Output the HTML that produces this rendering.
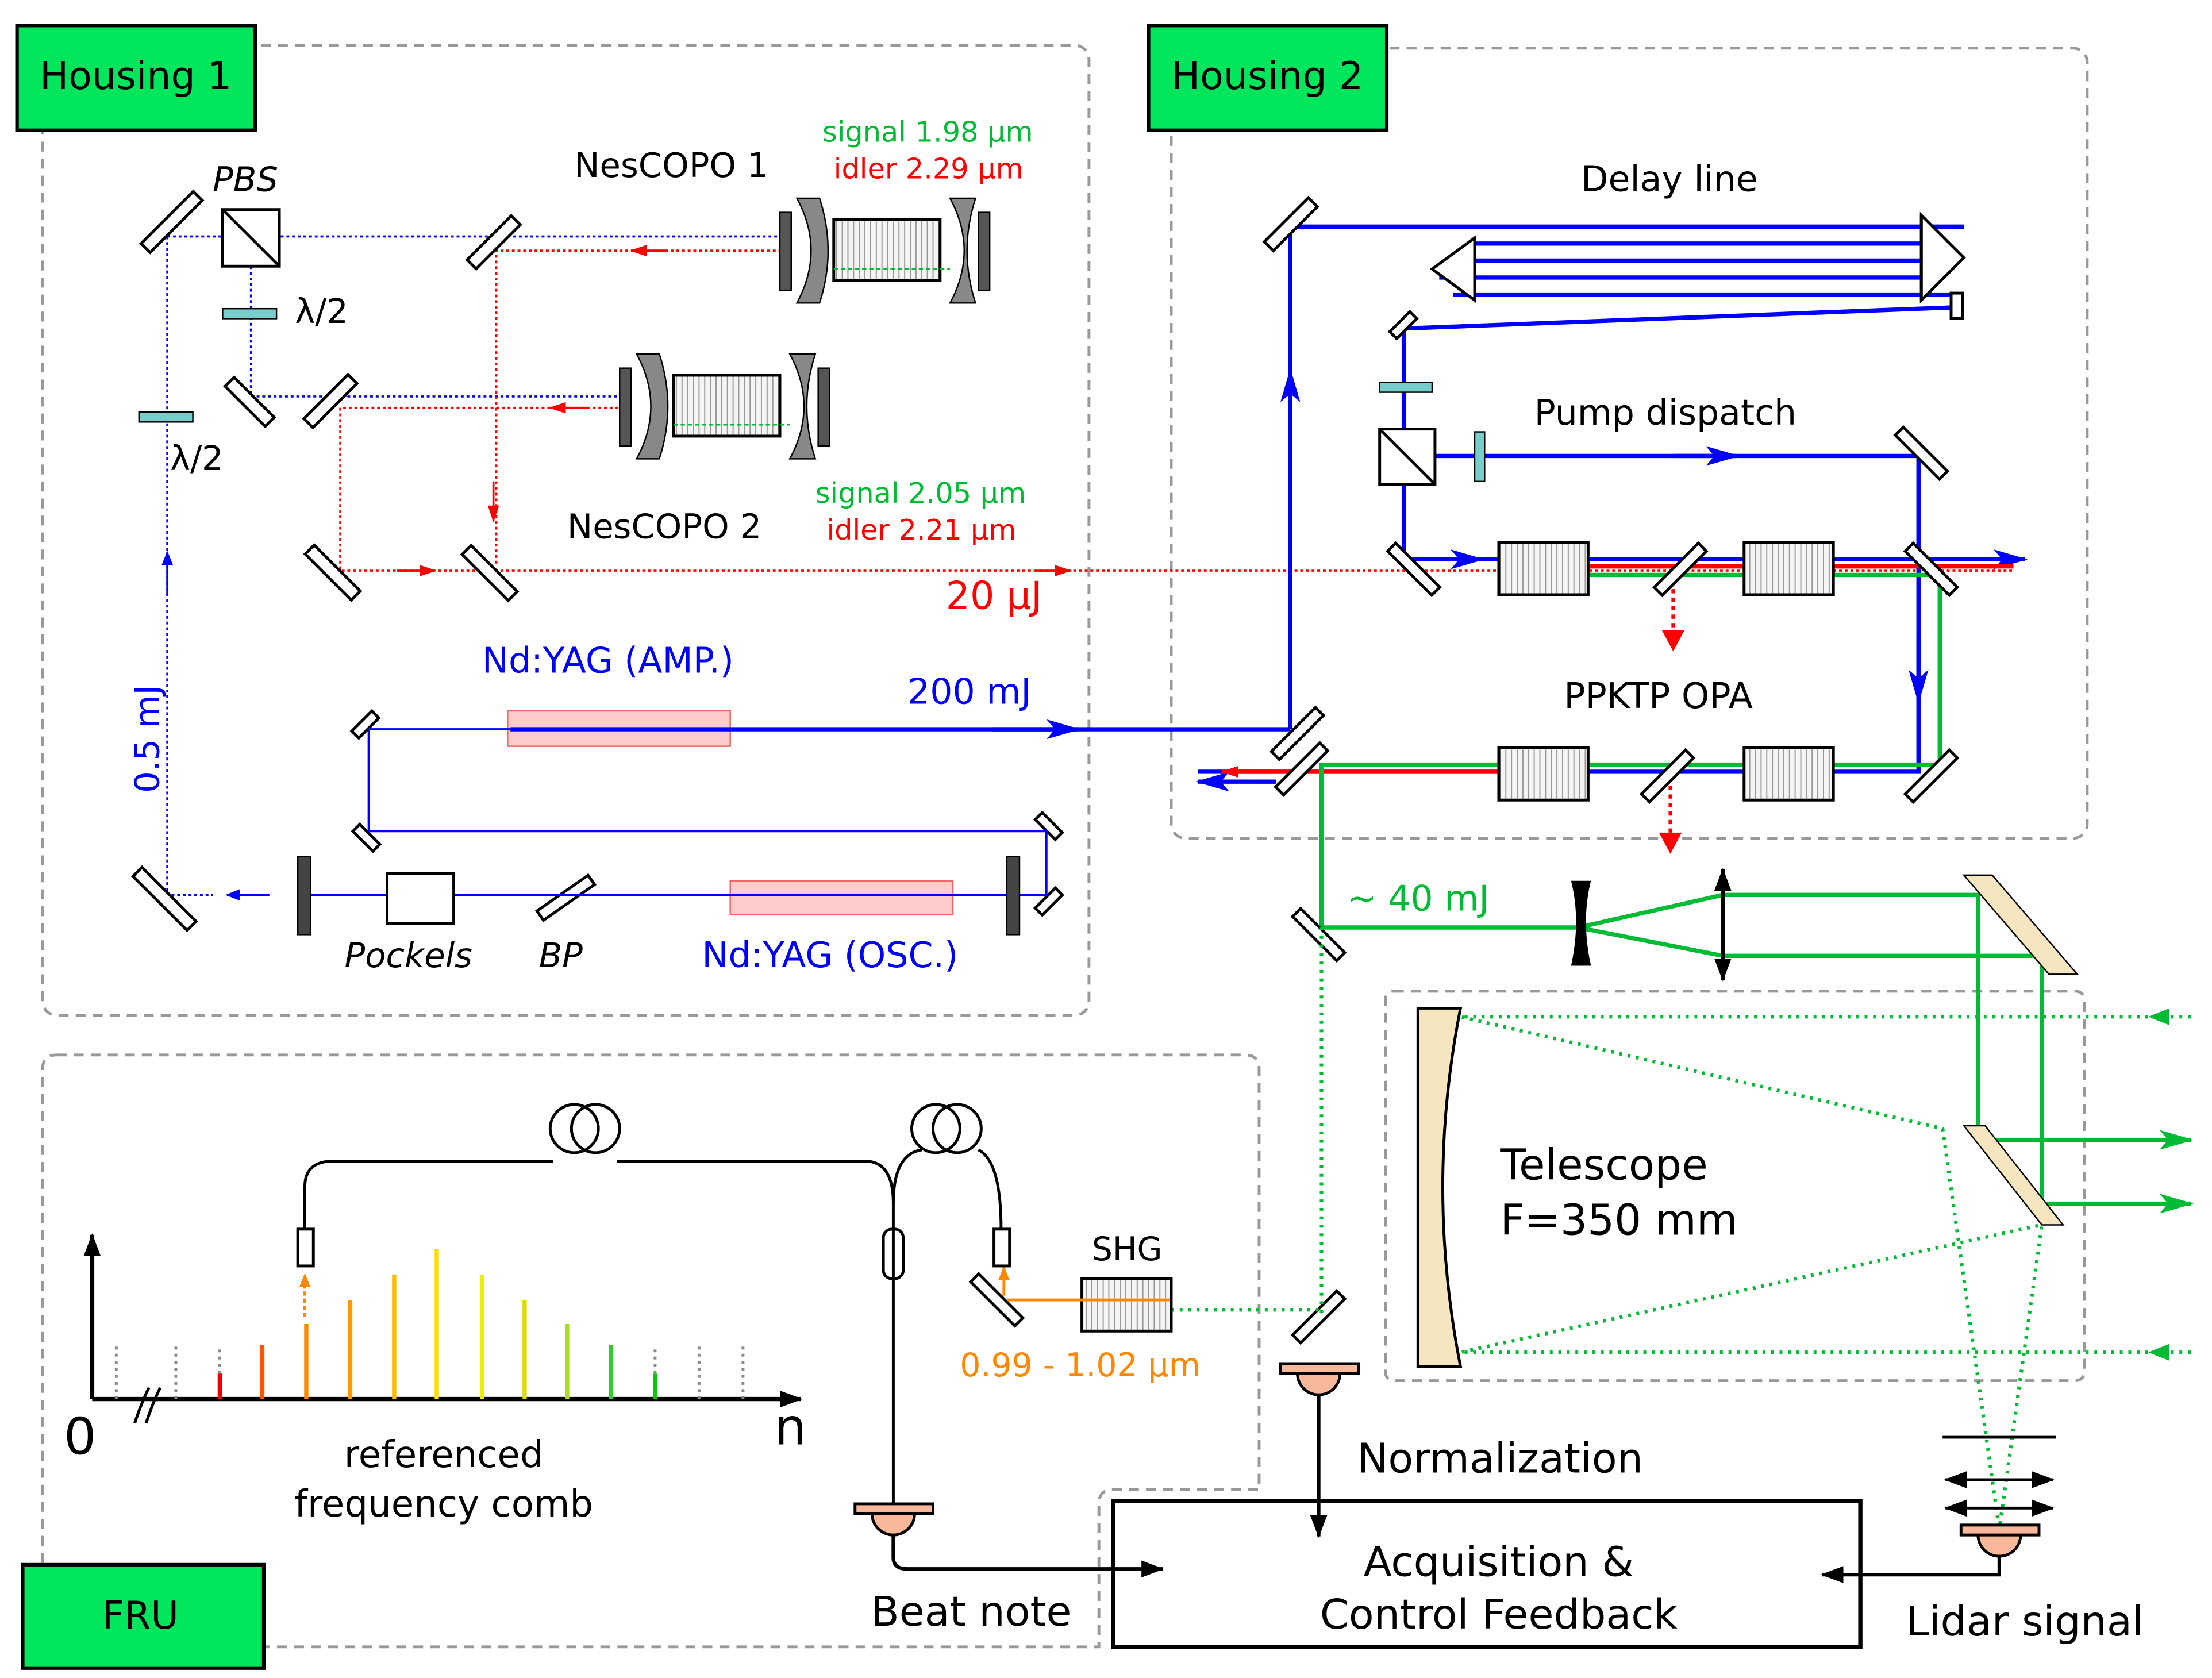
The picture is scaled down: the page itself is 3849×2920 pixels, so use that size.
<!DOCTYPE html>
<html><head><meta charset="utf-8"><style>
html,body{margin:0;padding:0;background:#fff}
svg{display:block}
text{font-family:"DejaVu Sans","Liberation Sans",sans-serif}
</style></head><body>
<svg width="3849" height="2920" viewBox="0 0 1560 1185" preserveAspectRatio="none" xmlns="http://www.w3.org/2000/svg">
<defs>
<marker id="ab" markerWidth="10" markerHeight="8" refX="9" refY="4" orient="auto" markerUnits="userSpaceOnUse"><path d="M0,0 L10,4 L0,8 Z" fill="#00f"/></marker>
<marker id="ab2" markerWidth="24" markerHeight="14" refX="22" refY="7" orient="auto" markerUnits="userSpaceOnUse"><path d="M0,0 L24,7 L0,14 L6,7 Z" fill="#00f"/></marker>
<marker id="ar" markerWidth="12" markerHeight="8" refX="11" refY="4" orient="auto" markerUnits="userSpaceOnUse"><path d="M0,0 L12,4 L0,8 Z" fill="#f00"/></marker>
<marker id="ag" markerWidth="24" markerHeight="14" refX="22" refY="7" orient="auto" markerUnits="userSpaceOnUse"><path d="M0,0 L24,7 L0,14 L6,7 Z" fill="#0b3"/></marker>
<marker id="ak" markerWidth="16" markerHeight="12" refX="15" refY="6" orient="auto-start-reverse" markerUnits="userSpaceOnUse"><path d="M0,0 L16,6 L0,12 Z" fill="#000"/></marker>
<marker id="ao" markerWidth="10" markerHeight="8" refX="9" refY="4" orient="auto" markerUnits="userSpaceOnUse"><path d="M0,0 L10,4 L0,8 Z" fill="#f80"/></marker>
<pattern id="hatch" width="4" height="4" patternUnits="userSpaceOnUse"><rect width="4" height="4" fill="#f4f4f4"/><path d="M2,0 V4" stroke="#999" stroke-width="0.8"/></pattern>
</defs>
<g fill="none" stroke="#999" stroke-width="2" stroke-dasharray="7,5">
<rect x="30" y="32" width="738" height="685" rx="10"/>
<rect x="826" y="34" width="646" height="558" rx="10"/>
<path d="M40,745 H878 Q888,745 888,755 V1052 H785 Q775,1052 775,1062 V1163 H40 Q30,1163 30,1153 V755 Q30,745 40,745"/>
<rect x="977" y="700" width="493" height="275" rx="6"/>
</g>
<g stroke="#000" stroke-width="2.5" fill="#00e65c">
<rect x="12" y="18" width="168" height="74"/><rect x="810" y="18" width="168" height="74"/><rect x="16" y="1105" width="170" height="73"/>
</g>
<g font-size="27" fill="#000"><text x="28" y="63">Housing 1</text><text x="826" y="63">Housing 2</text><text x="72" y="1150">FRU</text></g>

<g stroke="#00f" stroke-width="1.5" stroke-dasharray="2,2" fill="none">
<path d="M118,167 H555"/><path d="M177,188 V280 H440"/><path d="M118,167 V632 H150"/>
</g>
<line x1="190" y1="632" x2="160" y2="632" stroke="#00f" stroke-width="1.5" marker-end="url(#ab)"/>
<line x1="118" y1="420" x2="118" y2="390" stroke="#00f" stroke-width="1.5" marker-end="url(#ab)"/>
<g stroke="#f00" stroke-width="1.5" stroke-dasharray="2,2" fill="none">
<path d="M555,177 H350 V400"/><path d="M440,288 H240 V403 H1420"/>
</g>
<g stroke="#f00" stroke-width="1.5">
<line x1="470" y1="177" x2="445" y2="177" marker-end="url(#ar)"/>
<line x1="415" y1="288" x2="388" y2="288" marker-end="url(#ar)"/>
<line x1="348" y1="340" x2="348" y2="368" marker-end="url(#ar)"/>
<line x1="280" y1="403" x2="307" y2="403" marker-end="url(#ar)"/>
<line x1="730" y1="403" x2="755" y2="403" marker-end="url(#ar)"/>
</g>
<g fill="#fff" stroke="#000" stroke-width="2">
<rect x="100" y="161" width="52" height="9" transform="rotate(-45 113 167)"/>
<rect x="328" y="170" width="44" height="9" transform="rotate(-45 345 175)"/>
<rect x="157" y="278" width="40" height="9" transform="rotate(45 175 282)"/>
<rect x="212" y="280" width="44" height="9" transform="rotate(-45 232 285)"/>
<rect x="212" y="400" width="46" height="9" transform="rotate(45 235 404)"/>
<rect x="322" y="400" width="46" height="9" transform="rotate(45 345 405)"/>
<rect x="90" y="629" width="54" height="9" transform="rotate(45 115 633)"/>
<rect x="248" y="508" width="20" height="7" transform="rotate(-45 258 512)"/>
<rect x="248" y="588" width="20" height="7" transform="rotate(45 258 592)"/>
<rect x="730" y="580" width="20" height="7" transform="rotate(45 740 583)"/>
<rect x="730" y="633" width="20" height="7" transform="rotate(-45 740 637)"/>
<rect x="377" y="630" width="44" height="8" transform="rotate(-35 399 634)"/>
<rect x="157" y="148" width="40" height="40"/>
</g>
<line x1="157" y1="148" x2="197" y2="188" stroke="#000" stroke-width="2"/>
<rect x="157" y="218" width="38" height="7" fill="#7cc" stroke="#000"/>
<rect x="98" y="291" width="38" height="7" fill="#7cc" stroke="#000"/>
<g font-size="24" fill="#000"><text x="208" y="228">λ/2</text><text x="120" y="332">λ/2</text>
<text x="150" y="135" font-style="italic">PBS</text><text x="405" y="125">NesCOPO 1</text><text x="400" y="380">NesCOPO 2</text>
<text x="243" y="683" font-style="italic">Pockels</text><text x="380" y="683" font-style="italic">BP</text></g>
<text x="112" y="560" font-size="24" fill="#00f" transform="rotate(-90 112 560)">0.5 mJ</text>
<g font-size="20"><text x="580" y="100" fill="#0b3">signal 1.98 µm</text><text x="588" y="126" fill="#f00">idler 2.29 µm</text>
<text x="575" y="355" fill="#0b3">signal 2.05 µm</text><text x="583" y="381" fill="#f00">idler 2.21 µm</text></g>
<g id="ncp">
<rect x="550" y="150" width="8" height="55" fill="#555" stroke="#000"/>
<path d="M562,140 Q582,177 562,214 L578,214 Q590,177 578,140 Z" fill="#888" stroke="#000"/>
<rect x="588" y="155" width="75" height="43" fill="url(#hatch)" stroke="#000" stroke-width="2"/>
<path d="M670,140 Q690,177 670,214 L688,214 Q676,177 688,140 Z" fill="#888" stroke="#000"/>
<rect x="690" y="150" width="8" height="55" fill="#555" stroke="#000"/>
<line x1="588" y1="190" x2="670" y2="190" stroke="#0b3" stroke-dasharray="3,2"/>
</g>
<use href="#ncp" x="-113" y="110"/>
<rect x="358" y="502" width="157" height="25" fill="#fcc" stroke="#e66"/>
<rect x="515" y="622" width="157" height="24" fill="#fcc" stroke="#e66"/>
<g stroke="#00f" fill="none">
<path d="M260,515 H360" stroke-width="1.5"/><path d="M360,515 H910" stroke-width="3"/>
<path d="M260,515 V587 H738 V632 H218" stroke-width="1.5"/>
</g>
<line x1="700" y1="515" x2="760" y2="515" stroke="#00f" stroke-width="3" marker-end="url(#ab2)"/>
<rect x="210" y="605" width="9" height="55" fill="#444" stroke="#000"/>
<rect x="710" y="605" width="9" height="55" fill="#444" stroke="#000"/>
<rect x="273" y="617" width="47" height="35" fill="#fff" stroke="#000" stroke-width="2"/>
<g font-size="25" fill="#00f"><text x="340" y="475">Nd:YAG (AMP.)</text><text x="640" y="497">200 mJ</text><text x="495" y="683">Nd:YAG (OSC.)</text></g>
<text x="667" y="430" font-size="27" fill="#f00">20 µJ</text>

<g stroke="#00f" stroke-width="3" fill="none">
<path d="M910,515 V160 H1385"/>
<path d="M1040,172 H1370 M1025,184 H1378 M1015,196 H1370 M1025,208 H1385"/>
<path d="M1380,217 L990,232 V390"/>
<path d="M1012,322 H1353 V545 H845"/>
<path d="M995,395 H1420"/>
</g>
<line x1="910" y1="300" x2="910" y2="262" stroke="#00f" stroke-width="3" marker-end="url(#ab2)"/>
<line x1="1180" y1="322" x2="1225" y2="322" stroke="#00f" stroke-width="3" marker-end="url(#ab2)"/>
<line x1="1353" y1="450" x2="1353" y2="495" stroke="#00f" stroke-width="3" marker-end="url(#ab2)"/>
<line x1="1000" y1="395" x2="1045" y2="395" stroke="#00f" stroke-width="3" marker-end="url(#ab2)"/>
<line x1="1380" y1="395" x2="1428" y2="395" stroke="#00f" stroke-width="3" marker-end="url(#ab2)"/>
<line x1="900" y1="552" x2="845" y2="552" stroke="#00f" stroke-width="3" marker-end="url(#ab2)"/>
<path d="M1355,152 L1385,182 L1355,212 Z M1040,168 L1010,190 L1040,212 Z" fill="#fff" stroke="#000" stroke-width="2"/>
<line x1="1355" y1="152" x2="1355" y2="212" stroke="#000" stroke-width="2"/>
<g stroke="#f00" stroke-width="3"><line x1="1060" y1="400" x2="1420" y2="400"/><line x1="1060" y1="545" x2="870" y2="545"/></g>
<line x1="900" y1="545" x2="862" y2="545" stroke="#f00" stroke-width="3" marker-end="url(#ar)"/>
<g stroke="#0b3" stroke-width="3" fill="none"><path d="M1060,406 H1368 V540 H932 V655 H1113"/>
<path d="M1113,655 L1215,632 H1395 V805 M1113,655 L1215,675 H1440 V850"/></g>
<line x1="1395" y1="805" x2="1545" y2="805" stroke="#0b3" stroke-width="3" marker-end="url(#ag)"/>
<line x1="1440" y1="850" x2="1545" y2="850" stroke="#0b3" stroke-width="3" marker-end="url(#ag)"/>
<g stroke="#f00" stroke-width="2.5" stroke-dasharray="3,3"><line x1="1180" y1="410" x2="1180" y2="450"/><line x1="1178" y1="555" x2="1178" y2="595"/></g>
<path d="M1172,445 L1180,460 L1188,445 Z M1170,588 L1178,603 L1186,588 Z" fill="#f00"/>
<g fill="url(#hatch)" stroke="#000" stroke-width="2">
<rect x="1057" y="383" width="63" height="37"/><rect x="1230" y="383" width="63" height="37"/>
<rect x="1057" y="528" width="63" height="37"/><rect x="1230" y="528" width="63" height="37"/>
</g>
<g fill="#fff" stroke="#000" stroke-width="2">
<rect x="973" y="303" width="39" height="39"/>
<rect x="888" y="154" width="44" height="9" transform="rotate(-45 910 158)"/>
<rect x="980" y="226" width="20" height="7" transform="rotate(-45 990 230)"/>
<rect x="1376" y="207" width="8" height="18"/>
<rect x="1333" y="316" width="44" height="8" transform="rotate(45 1355 320)"/>
<rect x="975" y="398" width="44" height="8" transform="rotate(45 997 402)"/>
<rect x="1163" y="398" width="44" height="8" transform="rotate(-45 1185 402)"/>
<rect x="1340" y="398" width="44" height="8" transform="rotate(45 1362 402)"/>
<rect x="1154" y="544" width="44" height="8" transform="rotate(-45 1176 548)"/>
<rect x="1340" y="544" width="44" height="8" transform="rotate(-45 1362 548)"/>
<rect x="893" y="514" width="44" height="8" transform="rotate(-45 915 518)"/>
<rect x="896" y="539" width="44" height="8" transform="rotate(-45 918 543)"/>
<rect x="908" y="656" width="44" height="8" transform="rotate(45 930 660)"/>
<rect x="908" y="926" width="44" height="8" transform="rotate(-45 930 930)"/>
<rect x="681" y="914" width="44" height="8" transform="rotate(45 703 918)"/>
</g>
<line x1="973" y1="303" x2="1012" y2="342" stroke="#000" stroke-width="2"/>
<rect x="973" y="270" width="37" height="7" fill="#7cc" stroke="#000"/>
<rect x="1040" y="305" width="7" height="35" fill="#7cc" stroke="#000"/>
<g font-size="25" fill="#000"><text x="1115" y="135">Delay line</text><text x="1082" y="300">Pump dispatch</text><text x="1103" y="500">PPKTP OPA</text></g>
<text x="950" y="643" font-size="25" fill="#0b3">~ 40 mJ</text>
<path d="M1108,622 Q1115,650 1108,682 H1122 Q1115,650 1122,622 Z" fill="#000"/>
<line x1="1215" y1="614" x2="1215" y2="692" stroke="#000" stroke-width="3" marker-end="url(#ak)" marker-start="url(#ak)"/>
<path d="M1385,618 L1405,618 L1465,688 L1445,688 Z" fill="#f5e6c0" stroke="#000"/>
<path d="M1385,795 L1400,795 L1455,865 L1440,865 Z" fill="#f5e6c0" stroke="#000"/>
<path d="M1000,712 H1030 Q1005,838 1030,965 H1000 Z" fill="#f5e6c0" stroke="#000" stroke-width="2"/>
<g stroke="#0b3" stroke-width="2.5" stroke-dasharray="2,4" fill="none">
<path d="M1545,718 H1030 L1370,797 L1410,1080"/>
<path d="M1545,955 H1030 L1440,865 L1410,1080"/>
<path d="M932,655 V930"/><path d="M826,925 H930"/>
</g>
<path d="M1530,712 L1515,718 L1530,724 Z M1530,949 L1515,955 L1530,961 Z" fill="#0b3"/>
<g font-size="30" fill="#000"><text x="1058" y="833">Telescope</text><text x="1058" y="872">F=350 mm</text></g>
<line x1="1370" y1="1015" x2="1450" y2="1015" stroke="#000" stroke-width="2"/>
<line x1="1372" y1="1045" x2="1448" y2="1045" stroke="#000" stroke-width="2" marker-end="url(#ak)" marker-start="url(#ak)"/>
<line x1="1372" y1="1065" x2="1448" y2="1065" stroke="#000" stroke-width="2" marker-end="url(#ak)" marker-start="url(#ak)"/>
<g fill="#f9b89a" stroke="#000" stroke-width="2">
<path d="M903,963 H958 V970 H903 Z M915,970 A15,15 0 0 0 945,970"/>
<path d="M1383,1077 H1438 V1084 H1383 Z M1395,1084 A15,15 0 0 0 1425,1084"/>
<path d="M603,1062 H658 V1069 H603 Z M615,1069 A15,15 0 0 0 645,1069"/>
</g>
<line x1="930" y1="985" x2="930" y2="1085" stroke="#000" stroke-width="2.5" marker-end="url(#ak)"/>
<path d="M1410,1098 V1112 H1285" fill="none" stroke="#000" stroke-width="2.5" marker-end="url(#ak)"/>
<path d="M630,1084 V1100 Q630,1108 640,1108 H820" fill="none" stroke="#000" stroke-width="2.5" marker-end="url(#ak)"/>
<rect x="785" y="1060" width="527" height="103" fill="none" stroke="#000" stroke-width="3"/>
<g font-size="29" fill="#000" text-anchor="middle"><text x="1057" y="1113">Acquisition &amp;</text><text x="1057" y="1150">Control Feedback</text>
<text x="1058" y="1040">Normalization</text><text x="1428" y="1155">Lidar signal</text><text x="685" y="1148">Beat note</text>
<text x="313" y="1036" font-size="26">referenced</text><text x="313" y="1071" font-size="26">frequency comb</text></g>
<rect x="763" y="903" width="63" height="37" fill="url(#hatch)" stroke="#000" stroke-width="2"/>
<line x1="710" y1="918" x2="825" y2="918" stroke="#f80" stroke-width="2"/>
<line x1="708" y1="915" x2="708" y2="895" stroke="#f80" stroke-width="2" marker-end="url(#ao)"/>
<text x="770" y="890" font-size="23" fill="#000">SHG</text>
<text x="677" y="972" font-size="23" fill="#f80">0.99 - 1.02 µm</text>
<g fill="none" stroke="#000" stroke-width="2">
<path d="M215,868 V838 Q215,820 235,820 H390 M435,820 H610 Q630,820 630,850 V1062"/>
<circle cx="405" cy="797" r="17"/><circle cx="420" cy="797" r="17"/>
<circle cx="660" cy="797" r="17"/><circle cx="675" cy="797" r="17"/>
<path d="M630,850 Q630,815 650,812 M690,812 Q706,820 706,868"/>
<rect x="623" y="868" width="14" height="35" rx="6"/>
<rect x="210" y="868" width="11" height="26"/><rect x="701" y="868" width="11" height="26"/>
</g>
<line x1="215" y1="930" x2="215" y2="900" stroke="#f80" stroke-width="2" stroke-dasharray="3,2" marker-end="url(#ao)"/>
<line x1="65" y1="988" x2="565" y2="988" stroke="#000" stroke-width="3" marker-end="url(#ak)"/>
<line x1="65" y1="988" x2="65" y2="872" stroke="#000" stroke-width="3" marker-end="url(#ak)"/>
<path d="M95,1005 Q100,990 105,980 M103,1005 Q108,990 113,980" stroke="#000" stroke-width="2" fill="none"/>
<g font-size="36" fill="#000"><text x="45" y="1027">0</text><text x="546" y="1020">n</text></g>
<g stroke-width="3">
<line x1="155" y1="988" x2="155" y2="970" stroke="#e00"/>
<line x1="185" y1="988" x2="185" y2="950" stroke="#f50"/>
<line x1="216" y1="988" x2="216" y2="935" stroke="#f80"/>
<line x1="247" y1="988" x2="247" y2="918" stroke="#f90"/>
<line x1="278" y1="988" x2="278" y2="900" stroke="#fb0"/>
<line x1="308" y1="988" x2="308" y2="882" stroke="#fd0"/>
<line x1="340" y1="988" x2="340" y2="900" stroke="#ee0"/>
<line x1="370" y1="988" x2="370" y2="918" stroke="#dd0"/>
<line x1="400" y1="988" x2="400" y2="935" stroke="#ad2"/>
<line x1="431" y1="988" x2="431" y2="950" stroke="#3c3"/>
<line x1="462" y1="988" x2="462" y2="970" stroke="#0c0"/>
</g>
<g stroke="#888" stroke-width="2" stroke-dasharray="2,3">
<line x1="82" y1="988" x2="82" y2="950"/><line x1="124" y1="988" x2="124" y2="950"/><line x1="155" y1="970" x2="155" y2="950"/>
<line x1="462" y1="970" x2="462" y2="950"/><line x1="493" y1="988" x2="493" y2="950"/><line x1="524" y1="988" x2="524" y2="950"/>
</g>
</svg>
</body></html>
